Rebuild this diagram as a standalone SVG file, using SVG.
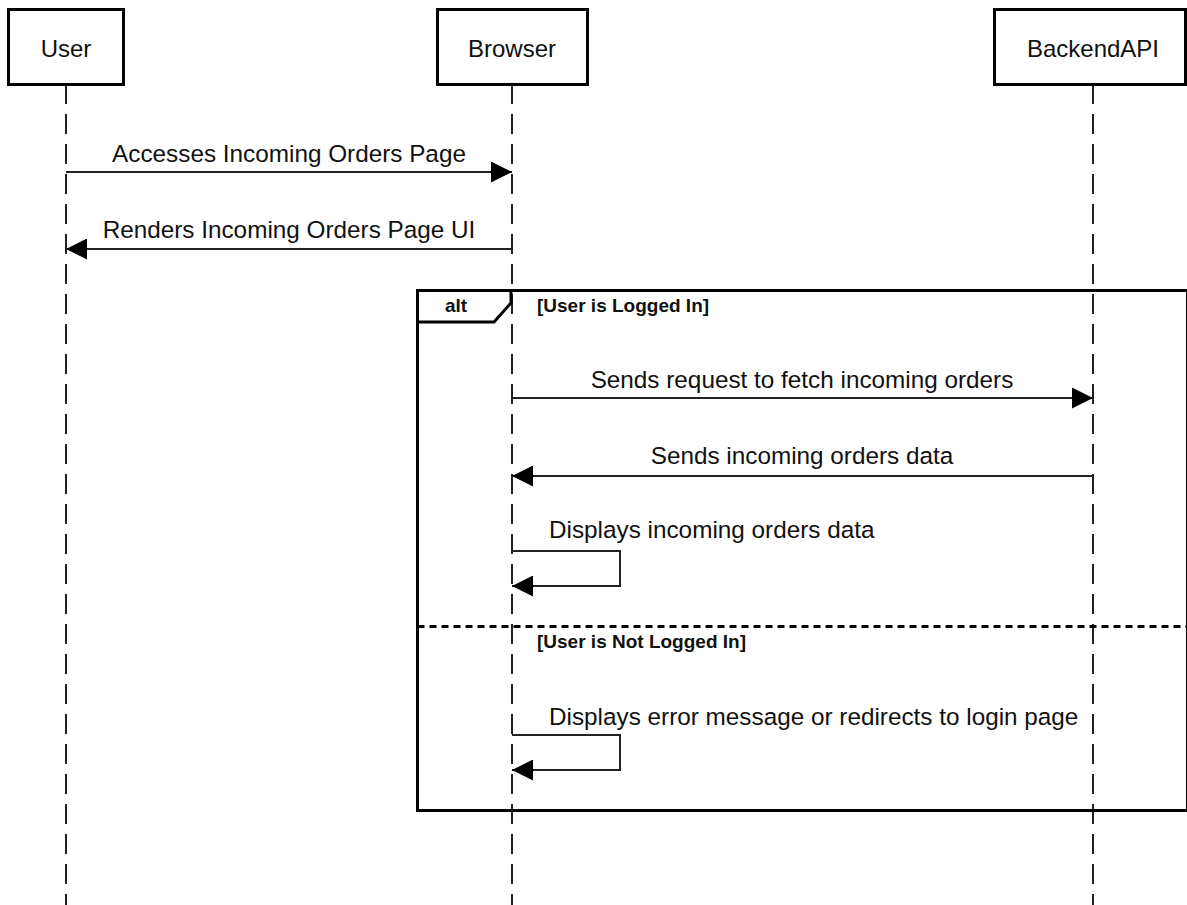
<svg xmlns="http://www.w3.org/2000/svg" width="1187" height="905" viewBox="0 0 1187 905">
  <style>
    .actor { fill: #ffffff; stroke: #000000; stroke-width: 3; }
    .actor-label { font-family: "Liberation Sans", Arial, sans-serif; font-size: 24px; fill: #111111; text-anchor: middle; }
    .lifeline { stroke: #222222; stroke-width: 2; stroke-dasharray: 20 10; fill: none; }
    .msg { stroke: #222222; stroke-width: 2; fill: none; }
    .msg-label { font-family: "Liberation Sans", Arial, sans-serif; font-size: 24.3px; fill: #111111; }
    .frame { fill: none; stroke: #000000; stroke-width: 3; }
    .frame-sep { stroke: #000000; stroke-width: 3; stroke-dasharray: 7 5; fill: none; }
    .frame-label { font-family: "Liberation Sans", Arial, sans-serif; font-size: 19px; font-weight: bold; fill: #111111; }
  </style>
  <defs>
    <marker id="arrow" markerWidth="21" markerHeight="21" refX="21" refY="10.5" orient="auto" markerUnits="userSpaceOnUse">
      <path d="M0,0 L21,10.5 L0,21 Z" fill="#000000"/>
    </marker>
  </defs>
  <rect width="1187" height="905" fill="#ffffff"/>

  <!-- lifelines -->
  <g id="lifelines">
    <line class="lifeline" x1="66" y1="84" x2="66" y2="905"/>
    <line class="lifeline" x1="512" y1="84" x2="512" y2="905"/>
    <line class="lifeline" x1="1093" y1="84" x2="1093" y2="905"/>
  </g>

  <!-- participants -->
  <g id="user">
    <rect class="actor" x="8.5" y="9.5" width="115" height="75"/>
    <text class="actor-label" x="66" y="57">User</text>
  </g>
  <g id="browser">
    <rect class="actor" x="437.5" y="9.5" width="150" height="75"/>
    <text class="actor-label" x="512" y="57">Browser</text>
  </g>
  <g id="backendapi">
    <rect class="actor" x="994.5" y="9.5" width="191" height="75"/>
    <text class="actor-label" x="1093" y="57">BackendAPI</text>
  </g>

  <!-- alt fragment -->
  <g id="alt-frame">
    <rect class="frame" x="417.5" y="290.5" width="770" height="520"/>
    <path class="frame" d="M417.5,322 L494,322 L511,303 L511,290.5"/>
    <text class="frame-label" x="456" y="312" text-anchor="middle">alt</text>
    <text class="frame-label" x="537" y="312">[User is Logged In]</text>
    <line class="frame-sep" x1="417.5" y1="626.5" x2="1187" y2="626.5"/>
    <text class="frame-label" x="537" y="648">[User is Not Logged In]</text>
  </g>

  <!-- messages -->
  <g id="connectors">
    <g id="msg-accesses">
      <line class="msg" x1="66" y1="172" x2="512" y2="172" marker-end="url(#arrow)"/>
      <text class="msg-label" x="289" y="162" text-anchor="middle">Accesses Incoming Orders Page</text>
    </g>
    <g id="msg-renders">
      <line class="msg" x1="512" y1="249" x2="66" y2="249" marker-end="url(#arrow)"/>
      <text class="msg-label" x="289" y="238" text-anchor="middle">Renders Incoming Orders Page UI</text>
    </g>
    <g id="msg-request">
      <line class="msg" x1="512" y1="398" x2="1093" y2="398" marker-end="url(#arrow)"/>
      <text class="msg-label" x="802" y="388" text-anchor="middle">Sends request to fetch incoming orders</text>
    </g>
    <g id="msg-data">
      <line class="msg" x1="1093" y1="476" x2="512" y2="476" marker-end="url(#arrow)"/>
      <text class="msg-label" x="802" y="464" text-anchor="middle">Sends incoming orders data</text>
    </g>
    <g id="msg-display">
      <path class="msg" d="M512,551 L620,551 L620,586 L512,586" marker-end="url(#arrow)"/>
      <text class="msg-label" x="549" y="538">Displays incoming orders data</text>
    </g>
    <g id="msg-error">
      <path class="msg" d="M512,735 L620,735 L620,770 L512,770" marker-end="url(#arrow)"/>
      <text class="msg-label" x="549" y="725">Displays error message or redirects to login page</text>
    </g>
  </g>
</svg>
